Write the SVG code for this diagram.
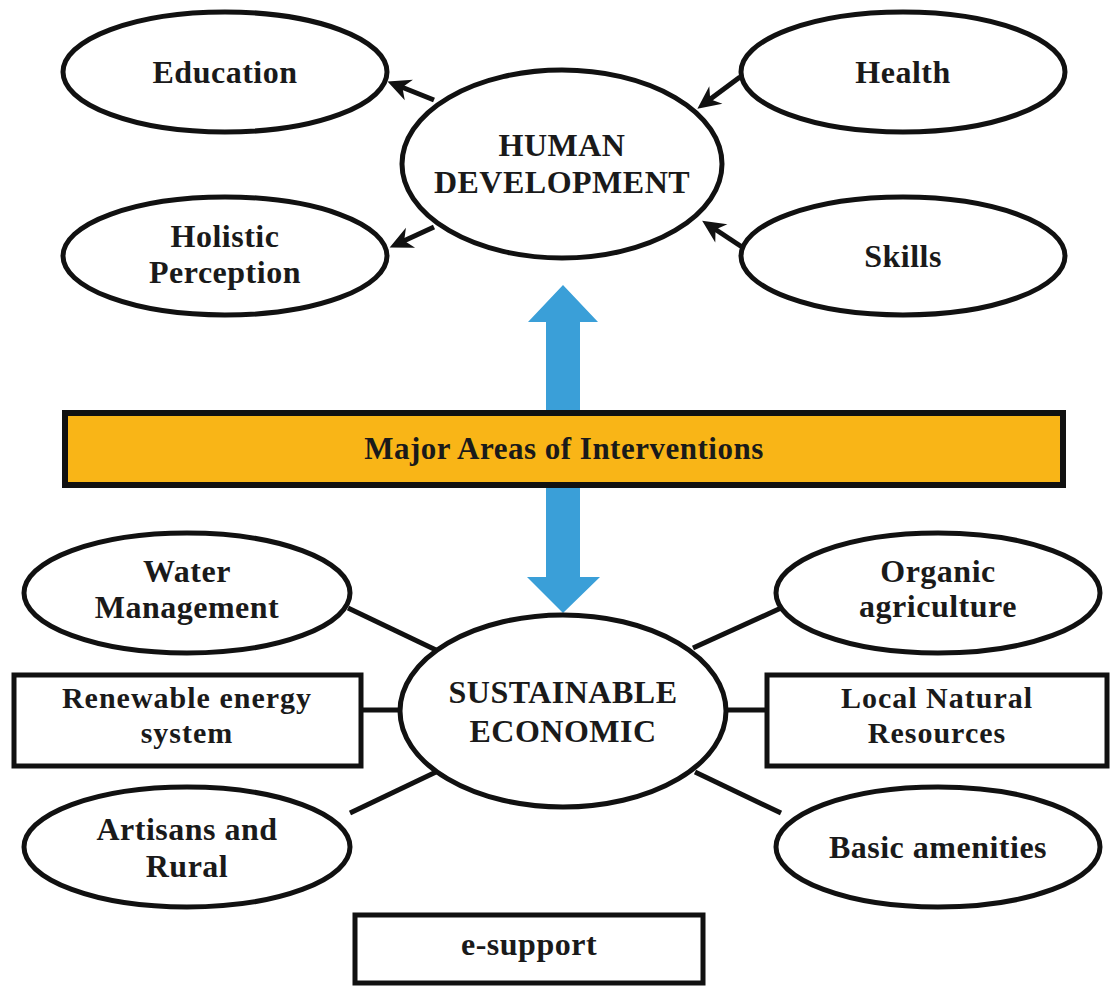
<svg xmlns="http://www.w3.org/2000/svg" width="1114" height="988" viewBox="0 0 1114 988">
  <style>
    .node { fill: #ffffff; stroke: #111111; stroke-width: 5; }
    .lbl { font-family: "Liberation Serif", "Times New Roman", serif; font-weight: bold; font-size: 32px; fill: #1a1a1a; text-anchor: middle; letter-spacing: 0.5px; }
    .box { font-size: 30px; letter-spacing: 1px; }
    .conn { stroke: #111111; stroke-width: 5; fill: none; }
    .arr { stroke: #111111; stroke-width: 5; fill: none; marker-end: url(#barb); }
  </style>
  <defs>
    <marker id="barb" markerUnits="userSpaceOnUse" markerWidth="28" markerHeight="24" refX="18" refY="11" orient="auto" overflow="visible">
      <path d="M25,11 L2,0 L9,11 L2,22 Z" fill="#111111"/>
    </marker>
  </defs>
  <rect width="1114" height="988" fill="#ffffff"/>

  <!-- blue double arrow (behind bar) -->
  <g id="blue-arrow">
    <polygon points="563,285 598,322 580,322 580,577 600,577 563,613 527,577 546,577 546,322 528,322" fill="#3a9fd8"/>
  </g>

  <g id="connectors">
    <line class="arr" x1="434" y1="100" x2="394" y2="84"/>
    <line class="arr" x1="434" y1="227" x2="396" y2="244.5"/>
    <line class="arr" x1="740" y1="77" x2="703" y2="104.5"/>
    <line class="arr" x1="742" y1="247" x2="708" y2="224.5"/>
    <line class="conn" x1="348" y1="608" x2="436" y2="650"/>
    <line class="conn" x1="363" y1="710" x2="400" y2="710"/>
    <line class="conn" x1="350" y1="813" x2="436" y2="772"/>
    <line class="conn" x1="693" y1="648" x2="781" y2="608"/>
    <line class="conn" x1="727" y1="710" x2="765" y2="710"/>
    <line class="conn" x1="695" y1="772" x2="781" y2="813"/>
  </g>

  <g id="education">
    <ellipse class="node" cx="225" cy="72" rx="162" ry="60"/>
    <text class="lbl" x="225" y="83">Education</text>
  </g>
  <g id="holistic">
    <ellipse class="node" cx="225" cy="256" rx="162" ry="59"/>
    <text class="lbl" x="225" y="247">Holistic</text>
    <text class="lbl" x="225" y="283">Perception</text>
  </g>
  <g id="human-development">
    <ellipse class="node" cx="562" cy="164" rx="160" ry="94"/>
    <text class="lbl" x="562" y="156">HUMAN</text>
    <text class="lbl" x="562" y="193">DEVELOPMENT</text>
  </g>
  <g id="health">
    <ellipse class="node" cx="903" cy="72" rx="162" ry="60"/>
    <text class="lbl" x="903" y="83">Health</text>
  </g>
  <g id="skills">
    <ellipse class="node" cx="903" cy="256" rx="162" ry="59"/>
    <text class="lbl" x="903" y="267">Skills</text>
  </g>

  <g id="major-areas">
    <rect x="65" y="413" width="998" height="72" fill="#f9b517" stroke="#111111" stroke-width="6"/>
    <text class="lbl" x="564" y="459" style="font-size:31px">Major Areas of Interventions</text>
  </g>

  <g id="water">
    <ellipse class="node" cx="187" cy="593" rx="163" ry="60"/>
    <text class="lbl" x="187" y="582">Water</text>
    <text class="lbl" x="187" y="618">Management</text>
  </g>
  <g id="renewable">
    <rect class="node" x="14" y="675" width="347" height="91"/>
    <text class="lbl box" x="187" y="708">Renewable energy</text>
    <text class="lbl box" x="187" y="743">system</text>
  </g>
  <g id="artisans">
    <ellipse class="node" cx="187" cy="847" rx="163" ry="60"/>
    <text class="lbl" x="187" y="840">Artisans and</text>
    <text class="lbl" x="187" y="877">Rural</text>
  </g>
  <g id="sustainable-economic">
    <ellipse class="node" cx="563" cy="711" rx="163" ry="96"/>
    <text class="lbl" x="563" y="703">SUSTAINABLE</text>
    <text class="lbl" x="563" y="742">ECONOMIC</text>
  </g>
  <g id="organic">
    <ellipse class="node" cx="938" cy="593" rx="162" ry="60"/>
    <text class="lbl" x="938" y="582">Organic</text>
    <text class="lbl" x="938" y="617">agriculture</text>
  </g>
  <g id="local-natural">
    <rect class="node" x="767" y="675" width="340" height="91"/>
    <text class="lbl box" x="937" y="708">Local Natural</text>
    <text class="lbl box" x="937" y="743">Resources</text>
  </g>
  <g id="basic-amenities">
    <ellipse class="node" cx="938" cy="847" rx="162" ry="60"/>
    <text class="lbl" x="938" y="858">Basic amenities</text>
  </g>
  <g id="e-support">
    <rect class="node" x="355" y="915" width="348" height="68"/>
    <text class="lbl" x="529" y="955">e-support</text>
  </g>
</svg>
